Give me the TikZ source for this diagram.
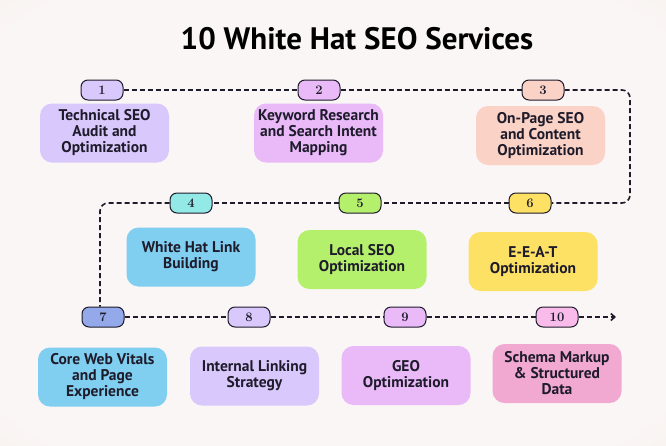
\documentclass[tikz,border=0pt]{standalone}
\usepackage{fontspec}
\setsansfont{PT Sans}
\newfontfamily\titlefont{PT Sans}
\usepackage{tikz}
\usetikzlibrary{positioning,arrows.meta}

\definecolor{bgin}{HTML}{FAF6F5}
\definecolor{bgout}{HTML}{F2E4D5}
\definecolor{ink}{HTML}{1E1B2B}
\definecolor{lav}{HTML}{D9C8FB}
\definecolor{orch}{HTML}{E9B9F8}
\definecolor{peach}{HTML}{FBD2C6}
\definecolor{sky}{HTML}{80CEF0}
\definecolor{aqua}{HTML}{93E9E6}
\definecolor{lime}{HTML}{B5F06C}
\definecolor{sun}{HTML}{FDE164}
\definecolor{peri}{HTML}{94A9EA}
\definecolor{rose}{HTML}{F1A9D2}
\definecolor{blush}{HTML}{F8BBEA}

\pgfdeclareradialshading{paper}{\pgfpoint{0bp}{0bp}}{%
  color(0bp)=(bgin); color(32bp)=(bgin); color(62bp)=(bgout); color(80bp)=(bgout)}

\begin{document}
\begin{tikzpicture}[
  x=1pt,y=-1pt,
  card/.style={rounded corners=12pt,minimum width=129pt,minimum height=59pt,
    inner sep=1pt,align=center,text=ink,
    font=\sffamily\bfseries\fontsize{15.5}{16}\selectfont},
  badge/.style={draw=ink,line width=1pt,rounded corners=7pt,minimum width=42pt,
    minimum height=20pt,inner sep=0pt,text=ink,font=\bfseries\fontsize{13}{13}\selectfont},
  trail/.style={draw=ink,line width=1.6pt,dash pattern=on 5pt off 3pt,rounded corners=8pt}
]
  \useasboundingbox (0,0) rectangle (666,445);
  \shade[shading=paper] (0,0) rectangle (666,445);

  \node[font=\titlefont\bfseries\fontsize{31}{34}\selectfont,text=black] (title) at (357,39)
    {10 White Hat SEO Services};

  % cards: number, position, fill, text
  \foreach \n/\x/\y/\col/\txt in {%
     1/104.5/133/lav/{Technical SEO\\Audit and\\Optimization},
     2/318.5/133/orch/{Keyword Research\\and Search Intent\\Mapping},
     3/540.5/135.5/peach/{On-Page SEO\\and Content\\Optimization},
     4/191/257/sky/{White Hat Link\\Building},
     5/362/259.5/lime/{Local SEO\\Optimization},
     6/533/261.5/sun/{E-E-A-T\\Optimization},
     7/102.5/377/sky/{Core Web Vitals\\and Page\\Experience},
     8/254.5/376/lav/{Internal Linking\\Strategy},
     9/406/375.5/orch/{GEO\\Optimization},
    10/557/373.5/rose/{Schema Markup\\\& Structured\\Data}%
  }{
    \node[card,fill=\col] (c\n) at (\x,\y) {\txt};
  }

  % numbered badges
  \foreach \n/\x/\y/\col in {%
     1/102/90/lav, 2/319/90/orch, 3/543/90/peach,
     4/191/203/aqua, 5/360/203/lime, 6/530/203/sun,
     7/103/317/peri, 8/249/317/lav, 9/405/317/orch, 10/557/317/blush%
  }{
    \node[badge,fill=\col] (b\n) at (\x,\y) {\n};
  }

  \coordinate (turn) at (630,90);
  \coordinate (tip) at (616,317);

  \draw[trail] (b1) -- (b2);
  \draw[trail] (b2) -- (b3);
  \draw[trail] (b3.east) -- (turn) |- (b6.east);
  \draw[trail] (b6) -- (b5);
  \draw[trail] (b5) -- (b4);
  \draw[trail] (b4.west) -| ([xshift=-3pt]b7.north);
  \draw[trail] (b7) -- (b8);
  \draw[trail] (b8) -- (b9);
  \draw[trail] (b9) -- (b10);
  \draw[trail,-{Straight Barb[length=4pt,width=7pt]}] (b10) -- (tip);
\end{tikzpicture}
\end{document}
